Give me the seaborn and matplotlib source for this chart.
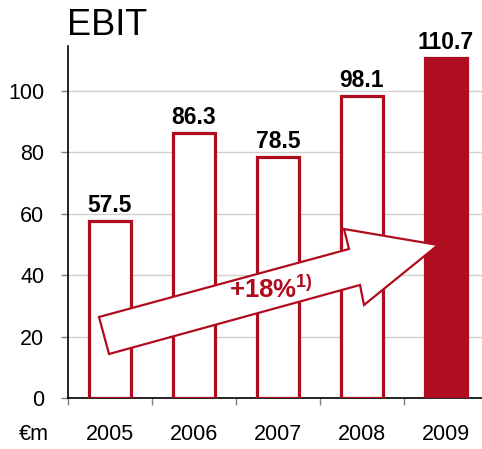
import matplotlib
matplotlib.use("Agg")
import matplotlib.pyplot as plt
import pandas as pd
import seaborn as sns
from matplotlib.patches import Polygon

# --- data -----------------------------------------------------------------
years = ["2005", "2006", "2007", "2008", "2009"]
ebit = [57.5, 86.3, 78.5, 98.1, 110.7]
labels = ["57.5", "86.3", "78.5", "98.1", "110.7"]
y_ticks = [0, 20, 40, 60, 80, 100]

RED = "#B00C1F"
W, H = 482, 449

sns.set_style("white")
plt.rcParams["font.family"] = ["Liberation Sans", "DejaVu Sans"]
plt.rcParams["mathtext.fontset"] = "custom"
plt.rcParams["mathtext.bf"] = "Liberation Sans:bold"
plt.rcParams["mathtext.rm"] = "Liberation Sans"
plt.rcParams["text.color"] = "black"
plt.rcParams["xtick.labelcolor"] = "black"
plt.rcParams["ytick.labelcolor"] = "black"

df = pd.DataFrame({"year": years, "ebit": ebit})

fig = plt.figure(figsize=(W / 100, H / 100), dpi=100)
ax = fig.add_axes([68 / W, 51 / H, (W - 68) / W, (398 - 46) / H])

sns.barplot(data=df, x="year", y="ebit", color="white", edgecolor=RED,
            linewidth=2.3, width=0.5, saturation=1, ax=ax, zorder=3)
ax.patches[-1].set_facecolor(RED)

ax.bar_label(ax.containers[0], labels=labels, padding=3,
             fontsize=16.5, fontweight="bold", color="black")

ax.set_ylim(0, 114.5)
ax.set_xlim(-0.5, 4.43)
ax.set_yticks(y_ticks)
ax.grid(axis="y", color="#d0d0d0", linewidth=1)
ax.set_axisbelow(True)

# tick marks between categories, year labels centred on bars
ax.set_xticks([-0.5, 0.5, 1.5, 2.5, 3.5])
ax.set_xticklabels([])
ax.set_xticks(range(len(years)), minor=True)
ax.set_xticklabels(years, minor=True)
ax.tick_params(axis="x", which="major", direction="out", length=5,
               color="#808080", width=1, bottom=True)
ax.tick_params(axis="x", which="minor", length=0, pad=19, labelsize=15.5,
               bottom=True, labelcolor="black")
ax.tick_params(axis="y", direction="out", length=5, color="#808080",
               width=1, pad=12, labelsize=15.5, left=True, labelcolor="black")
ax.set_xlabel("")
ax.set_ylabel("")

for side in ["top", "right"]:
    ax.spines[side].set_visible(False)
for side in ["left", "bottom"]:
    ax.spines[side].set_color("black")
    ax.spines[side].set_linewidth(1.2)

# growth arrow (annotation drawn in figure pixel space)
arrow_px = [(99, 317), (349, 249), (344, 229), (438, 245),
            (364, 305), (360, 285), (109, 354)]
arrow = Polygon([(x / W, 1 - y / H) for x, y in arrow_px], closed=True,
                facecolor="white", edgecolor=RED, linewidth=1.6,
                transform=fig.transFigure, zorder=6, clip_on=False)
ax.add_patch(arrow)
fig.text(271 / W, 1 - 289 / H, r"$\mathbf{+18\%}^{\mathbf{1)}}$",
         color=RED, fontsize=18.5, ha="center", va="center", zorder=7)

fig.text(67 / W, 1 - 35 / H, "EBIT", fontsize=26, va="baseline", ha="left")
fig.text(34 / W, 1 - 434 / H, "€m", fontsize=15.5, va="center", ha="center")

fig.savefig("out.png", dpi=100)
